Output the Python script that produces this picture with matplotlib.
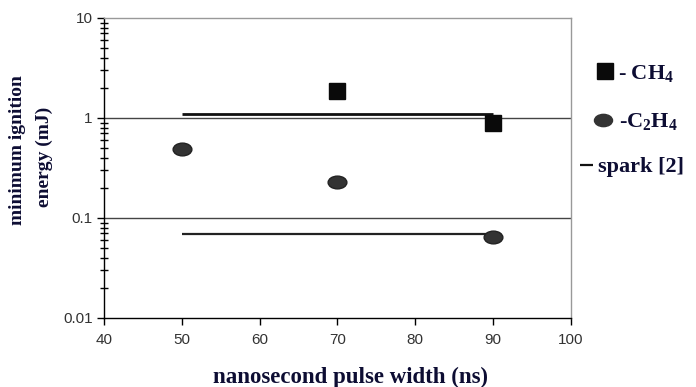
import numpy as np
import matplotlib.pyplot as plt
from matplotlib.path import Path
from matplotlib.transforms import Affine2D
from matplotlib.lines import Line2D
from matplotlib.ticker import LogLocator, NullFormatter, FixedLocator, FixedFormatter

plt.rcParams['mathtext.fontset'] = 'custom'
plt.rcParams['mathtext.rm'] = 'Liberation Serif:bold'
plt.rcParams['mathtext.it'] = 'Liberation Serif:bold'
plt.rcParams['mathtext.bf'] = 'Liberation Serif:bold'

# data
ch4_x = [70, 90]
ch4_y = [1.88, 0.89]
c2h4_x = [50, 70, 90]
c2h4_y = [0.49, 0.229, 0.065]
spark_x = [50, 90]
spark_ch4 = [1.1, 1.1]
spark_c2h4 = [0.069, 0.069]

x_ticks = [40, 50, 60, 70, 80, 90, 100]
y_ticks = [0.01, 0.1, 1, 10]
y_ticklabels = ['0.01', '0.1', '1', '10']

label_color = '#0d0d33'
ellipse = Path.unit_circle().transformed(Affine2D().scale(1, 0.68))

fig = plt.figure(figsize=(6.96, 3.87), dpi=100)
ax = fig.add_axes([0.1494, 0.1783, 0.671, 0.7752])

ax.set_yscale('log')
ax.set_xlim(40, 100)
ax.set_ylim(0.01, 10)

for yv in [0.1, 1]:
    ax.axhline(yv, color='#444444', lw=1.0, zorder=1)

ax.plot(spark_x, spark_ch4, color='#111111', lw=2.0, solid_capstyle='butt', zorder=2)
ax.plot(spark_x, spark_c2h4, color='#222222', lw=1.6, solid_capstyle='butt', zorder=2)
ax.plot(ch4_x, ch4_y, ls='none', marker='s', ms=11.5, color='#0a0a0a', zorder=3)
ax.plot(c2h4_x, c2h4_y, ls='none', marker=ellipse, ms=13.5, color='#333333',
        markeredgecolor='#222222', zorder=3)

ax.xaxis.set_major_locator(FixedLocator(x_ticks))
ax.yaxis.set_major_locator(FixedLocator(y_ticks))
ax.yaxis.set_major_formatter(FixedFormatter(y_ticklabels))
ax.yaxis.set_minor_locator(LogLocator(base=10, subs=np.arange(2, 10)))
ax.yaxis.set_minor_formatter(NullFormatter())

for lab in ax.get_xticklabels() + ax.get_yticklabels():
    lab.set_family('Liberation Sans')
    lab.set_fontsize(11)
    lab.set_color('#333333')
ax.tick_params(axis='x', which='major', direction='out', length=5, width=1, color='black', pad=6)
ax.tick_params(axis='y', which='major', direction='out', length=5, width=1, color='black', pad=3)
ax.tick_params(axis='y', which='minor', direction='inout', length=6, width=1, color='black')

ax.spines['left'].set_color('black')
ax.spines['bottom'].set_color('black')
ax.spines['top'].set_color('#999999')
ax.spines['right'].set_color('#999999')
for s in ax.spines.values():
    s.set_linewidth(1.0)

fig.text(0.025, 0.612, 'minimum ignition', rotation=90, ha='center', va='center',
         family='Liberation Serif', weight='bold', fontsize=14, color=label_color)
fig.text(0.064, 0.594, 'energy (mJ)', rotation=90, ha='center', va='center',
         family='Liberation Serif', weight='bold', fontsize=14, color=label_color)
fig.text(0.504, 0.026, 'nanosecond pulse width (ns)', ha='center', va='center',
         family='Liberation Serif', weight='bold', fontsize=16.5, color=label_color)

legend_font = {'family': 'Liberation Serif', 'weight': 'bold', 'size': 16}
legend_items = [
    (Line2D([], [], ls='none', marker='s', ms=11, color='#0a0a0a'),
     r'- $\mathrm{CH_4}$', 594 / 696, 1 - 73 / 387, 1.0, 0.1),
    (Line2D([], [], ls='none', marker=ellipse, ms=13, color='#333333'),
     r'-$\mathrm{C_2H_4}$', 592 / 696, 1 - 122 / 387, 1.0, 0.22),
    (Line2D([], [], color='#111111', lw=1.6, solid_capstyle='butt'),
     'spark [2]', 580 / 696, 1 - 167 / 387, 0.6, 0.22),
]
for handle, text, lx, ly, hlen, pad in legend_items:
    leg = fig.legend([handle], [text], loc='center left', bbox_to_anchor=(lx, ly),
                     bbox_transform=fig.transFigure, frameon=False, borderpad=0,
                     borderaxespad=0, handlelength=hlen, handletextpad=pad, prop=legend_font)
    for t in leg.get_texts():
        t.set_color(label_color)

fig.savefig('out.png', dpi=100)
